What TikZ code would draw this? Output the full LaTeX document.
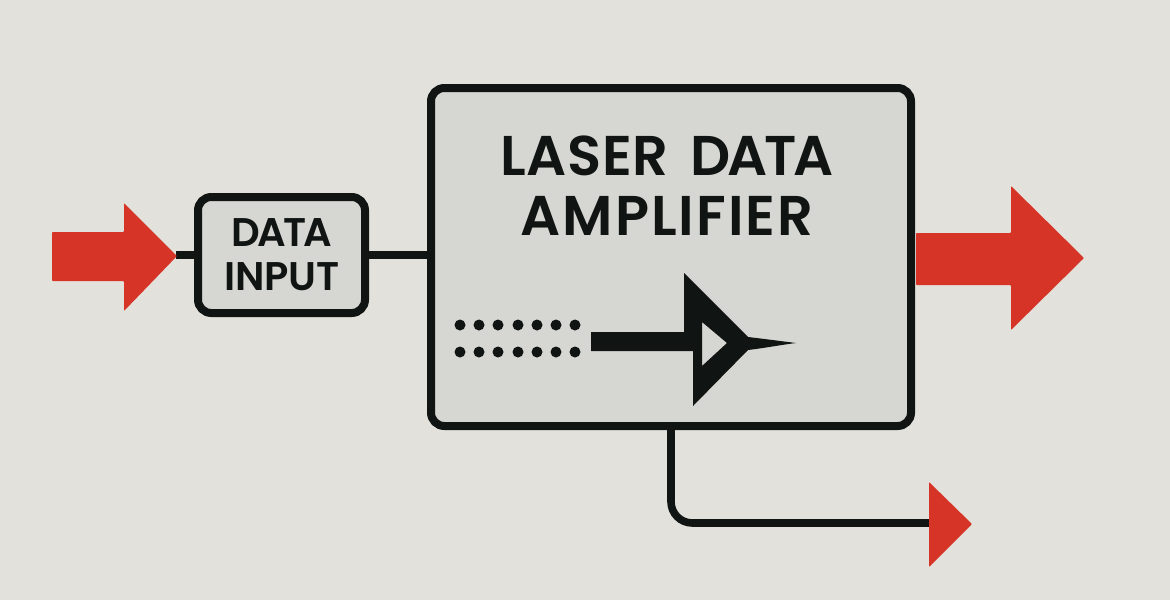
\documentclass[tikz,border=0pt]{standalone}
\usepackage{fontspec}
\setmainfont{Poppins}[UprightFont=* SemiBold]
\definecolor{bg}{HTML}{E3E1DB}
\definecolor{boxfill}{HTML}{D6D6D2}
\definecolor{ink}{HTML}{101412}
\definecolor{arrowred}{HTML}{D63426}
\newcommand{\spaced}[2]{{\addfontfeature{LetterSpace=#1}#2}}
\tikzset{
  px/.style={x=0.75pt,y=-0.75pt},
  blockbox/.style={draw=ink,line width=6pt,rounded corners=10pt,fill=boxfill,inner sep=0pt},
  wire/.style={draw=ink,line width=5.7pt},
  redarrow/.style={fill=arrowred,draw=none,rounded corners=0.6pt},
  dotmark/.style={circle,fill=ink,draw=none,minimum size=8.25pt,inner sep=0pt},
  lbl/.style={text=ink,align=center,inner sep=0pt}
}
\begin{document}
\begin{tikzpicture}[px]
\useasboundingbox (0,0) rectangle (1170,600);
\fill[bg] (0,0) rectangle (1170,600);
\coordinate (inStart) at (176,255);
\coordinate (outTurn) at (671,523);
\coordinate (outEnd) at (932,523);
\node[blockbox,minimum width=125.25pt,minimum height=87pt] (input) at (281.5,255) {};
\node[blockbox,minimum width=360pt,minimum height=253.5pt] (amp) at (671,257) {};
\draw[wire] (inStart) -- (input.west |- inStart);
\draw[wire] (input.east |- inStart) -- (amp.west |- inStart);
\draw[wire,rounded corners=16pt] (amp.south -| outTurn) -- (outTurn) -- (outEnd);
\node[lbl,font=\fontsize{30pt}{33pt}\selectfont] (inputText) at (282,255) {\spaced{-7}{DATA}\\INPUT};
\node[lbl,font=\fontsize{42pt}{45pt}\selectfont] (ampText) at (667,186) {\spaced{1}{LASER}\hspace{17pt}\spaced{-6}{DATA}\\\spaced{3.5}{AMPLIFIER}};
\fill[redarrow] (52,232) -- (124,232) -- (124,203) -- (177,256) -- (124,311) -- (124,281) -- (52,281) -- cycle;
\fill[redarrow] (916,233) -- (1011,233) -- (1011,186) -- (1084,258) -- (1011,330) -- (1011,285) -- (916,285) -- cycle;
\fill[redarrow] (929,482) -- (972,524) -- (929,567) -- cycle;
\foreach \r/\y in {a/325,b/352}{
  \foreach \i/\x in {1/460,2/479,3/498,4/518,5/537,6/556,7/575}{
    \node[dotmark] (d\r\i) at (\x,\y) {};
  }
}
\fill[ink,even odd rule] (591,332) -- (684,332) -- (684,273) -- (748,337) .. controls (765,339) and (780,341) .. (796,343) .. controls (780,345) and (765,348) .. (748,350) -- (693,406) -- (693,351) -- (591,351) -- cycle
  (702,322) -- (702,366) -- (727,343) -- cycle;
\end{tikzpicture}
\end{document}
